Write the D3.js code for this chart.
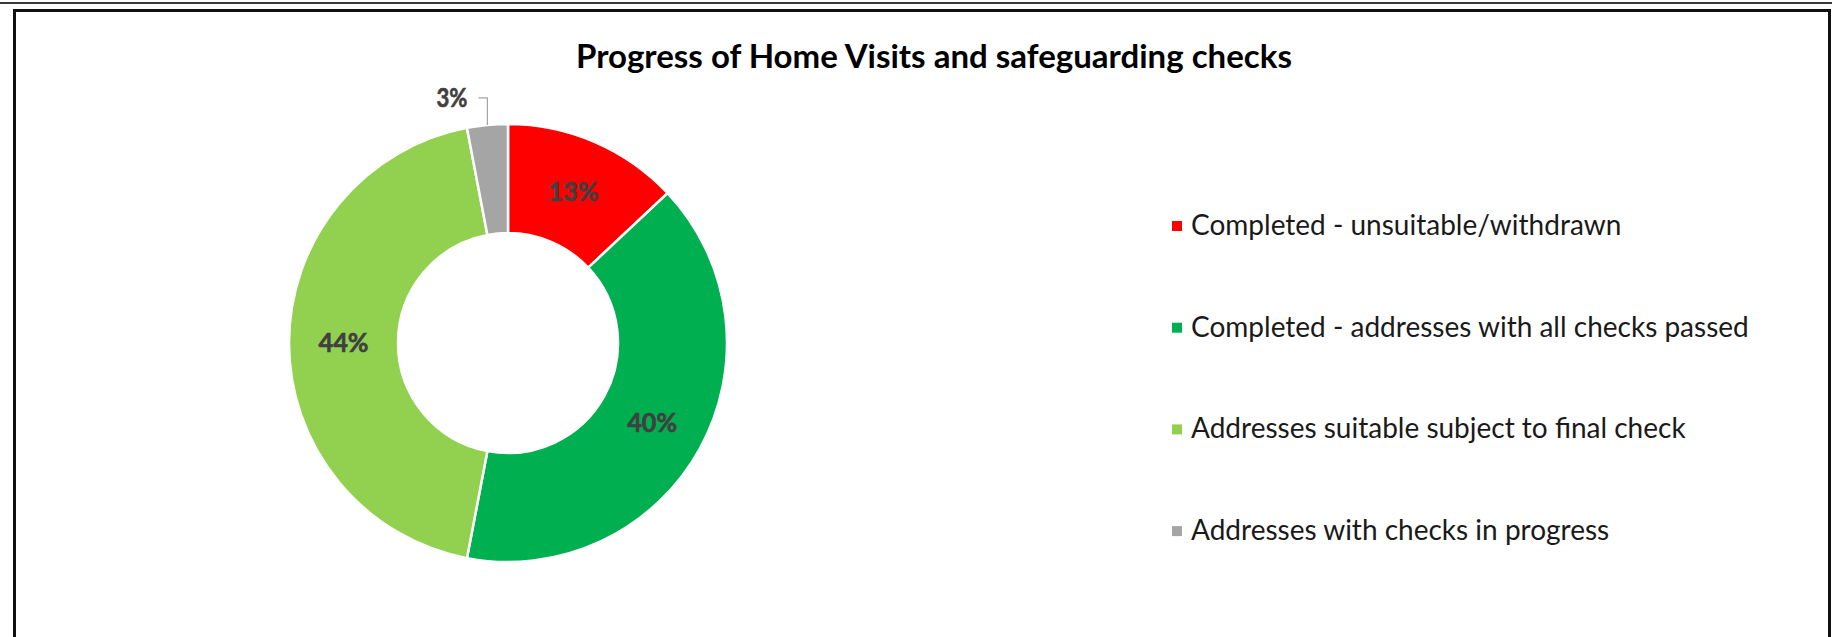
<!DOCTYPE html>
<html>
<head>
<meta charset="utf-8">
<script src="https://cdn.jsdelivr.net/npm/d3@7"></script>
<style>
  html, body { margin: 0; padding: 0; background: #ffffff; }
  svg { display: block; }
  text { font-family: Lato, "Noto Sans", "DejaVu Sans", sans-serif; }
</style>
</head>
<body>
<svg id="chart" width="1832" height="637"></svg>
<script>
// Home visit outcomes, share of all addresses (%)
const categories = [
  "Completed - unsuitable/withdrawn",
  "Completed - addresses with all checks passed",
  "Addresses suitable subject to final check",
  "Addresses with checks in progress"
];
const values = [13, 40, 44, 3];
const colors = ["#FF0000", "#00B050", "#92D050", "#A5A5A5"];
const chartTitle = "Progress of Home Visits and safeguarding checks";

const svg = d3.select("#chart");
const W = 1832, H = 637;

// Frame: rule across the top and the chart's bordered box
svg.append("line")
  .attr("x1", 0).attr("x2", W).attr("y1", 3).attr("y2", 3)
  .attr("stroke", "#3a3a3a").attr("stroke-width", 2);
svg.append("rect")
  .attr("x", 14.5).attr("y", 10.5)
  .attr("width", 1815).attr("height", 640)
  .attr("fill", "#ffffff")
  .attr("stroke", "#111111").attr("stroke-width", 3);

// Scale a text element's font size so its rendered width equals target
function fitWidth(sel, target) {
  const w = sel.node().getComputedTextLength();
  const fs = parseFloat(sel.attr("font-size"));
  sel.attr("font-size", (fs * target / w).toFixed(2));
  return sel;
}

// Title
const title = svg.append("text")
  .attr("x", 934).attr("y", 68)
  .attr("text-anchor", "middle")
  .attr("font-size", 28).attr("font-weight", 700)
  .attr("fill", "#000000")
  .text(chartTitle);
fitWidth(title, 716);

// Donut
const cx = 508, cy = 343, outerR = 219, innerR = 110;
const data = categories.map((c, i) => ({ category: c, value: values[i], color: colors[i] }));
const pie = d3.pie().sort(null).value(d => d.value);
const arcs = pie(data);
const arc = d3.arc().innerRadius(innerR).outerRadius(outerR);
const labelArc = d3.arc().innerRadius((innerR + outerR) / 2).outerRadius((innerR + outerR) / 2);
const edgeArc = d3.arc().innerRadius(outerR).outerRadius(outerR);

const g = svg.append("g").attr("transform", `translate(${cx},${cy})`);
g.selectAll("path.slice")
  .data(arcs)
  .join("path")
  .attr("class", "slice")
  .attr("d", arc)
  .attr("fill", d => d.data.color)
  .attr("stroke", "#ffffff")
  .attr("stroke-width", 2.5)
  .attr("stroke-linejoin", "miter");

const total = d3.sum(values);
const pct = v => Math.round(v / total * 100) + "%";

// Bold, slightly condensed data-label text
function dataLabel(sel, width) {
  return sel
    .attr("font-size", 26).attr("font-weight", 700)
    .attr("fill", "#404040")
    .attr("stroke", "#404040").attr("stroke-width", 0.6)
    .attr("textLength", width)
    .attr("lengthAdjust", "spacingAndGlyphs");
}

// Labels inside the ring for the larger slices
const big = arcs.filter(d => d.data.value / total >= 0.05);
const small = arcs.filter(d => d.data.value / total < 0.05);

g.selectAll("text.inlabel")
  .data(big)
  .join("text")
  .attr("class", "inlabel")
  .attr("transform", d => `translate(${labelArc.centroid(d)})`)
  .attr("text-anchor", "middle")
  .attr("dy", "0.36em")
  .text(d => pct(d.data.value))
  .call(dataLabel, 50);

// Small slice: label outside with an elbow leader line
small.forEach(d => {
  const [ex, ey] = edgeArc.centroid(d);
  const ly = ey - 27;
  g.append("polyline")
    .attr("points", [[ex, ey], [ex, ly], [ex - 9, ly]].map(p => p.join(",")).join(" "))
    .attr("fill", "none")
    .attr("stroke", "#A6A6A6")
    .attr("stroke-width", 1.2);
  g.append("text")
    .attr("x", ex - 20).attr("y", ly)
    .attr("text-anchor", "end")
    .attr("dy", "0.36em")
    .text(pct(d.data.value))
    .call(dataLabel, 31);
});

// Legend
const legendX = 1172, legendY0 = 226, legendStep = 101.7, sq = 10;
const legend = svg.append("g");
const rows = legend.selectAll("g.row")
  .data(data)
  .join("g")
  .attr("class", "row")
  .attr("transform", (d, i) => `translate(${legendX},${legendY0 + i * legendStep})`);
rows.append("rect")
  .attr("x", 0).attr("y", -sq / 2)
  .attr("width", sq).attr("height", sq)
  .attr("fill", d => d.color);
const legendText = rows.append("text")
  .attr("x", 19).attr("y", 0)
  .attr("dy", "0.32em")
  .attr("font-size", 24)
  .attr("fill", "#1a1a1a")
  .text(d => d.category);
// Size all legend entries from the longest entry's width
const longest = legendText.filter((d, i) => i === 1);
fitWidth(longest, 558);
legendText.attr("font-size", longest.attr("font-size"));
</script>
</body>
</html>
